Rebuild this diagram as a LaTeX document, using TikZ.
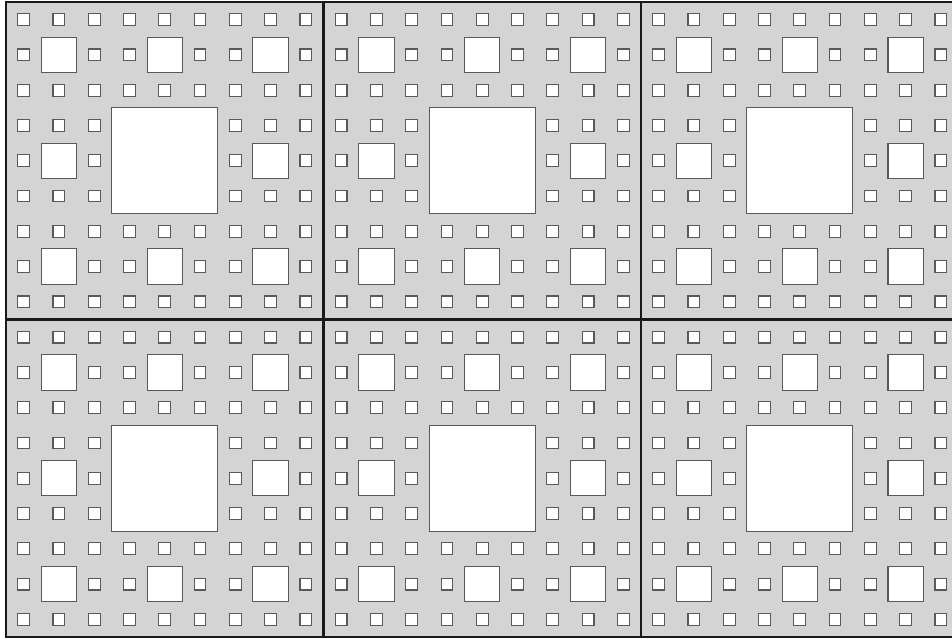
\documentclass[tikz,border=0pt]{standalone}
\begin{document}
\begin{tikzpicture}[x=1pt,y=-1pt,
  carpet/.style={fill=black!17},
  hole/.style={fill=white,draw=black!65,line width=1.1pt},
  tileedge/.style={draw=black!90,line width=2.1pt}]
\useasboundingbox (0,0) rectangle (952,639);
\clip (0,0) rectangle (952,639);
\fill[white] (0,0) rectangle (952,639);
\foreach \i in {0,1,2}{
 \foreach \j in {0,1}{
  \begin{scope}[shift={(6+317.5*\i,2+317.5*\j)},x=11.7593pt,y=-11.7593pt]
   \fill[carpet] (0,0) rectangle (27,27);
   \draw[hole] (9,9) rectangle (18,18);
   \foreach \a/\b in {0/0,1/0,2/0,0/1,2/1,0/2,1/2,2/2}{
     \draw[hole] (9*\a+3,9*\b+3) rectangle ++(3,3);
     \foreach \c/\d in {0/0,1/0,2/0,0/1,2/1,0/2,1/2,2/2}{
       \draw[hole] (9*\a+3*\c+1,9*\b+3*\d+1) rectangle ++(1,1);
     }
   }
  \end{scope}
 }
}
\foreach \i in {0,1,2}{
 \foreach \j in {0,1}{
  \begin{scope}[shift={(6+317.5*\i,2+317.5*\j)}]
   \draw[tileedge] (0,0) rectangle (317.5,317.5);
  \end{scope}
 }
}
\end{tikzpicture}
\end{document}
